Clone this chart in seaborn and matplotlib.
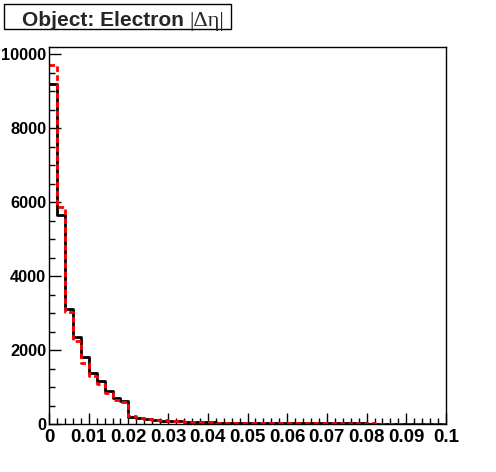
import numpy as np
import pandas as pd
import matplotlib
matplotlib.use("Agg")
import matplotlib.pyplot as plt
import seaborn as sns
from matplotlib.patches import Rectangle
from matplotlib.ticker import MultipleLocator

# 50 bins from 0 to 0.1
bin_width = 0.002
bin_centers = np.arange(50) * bin_width + bin_width / 2

# counts per bin
black_counts = [9200, 5650, 3110, 2350, 1820, 1390, 1150, 900, 690, 630,
                180, 170, 125, 95, 90, 80, 75, 65, 50, 45,
                42, 40, 36, 32, 30, 28, 26, 25, 24, 22,
                20, 20, 19, 18, 17, 16, 15, 15, 14, 14,
                13, 12, 12, 11, 11, 10, 10, 10, 9, 9]
red_counts = [9700, 5860, 3040, 2230, 1640, 1300, 1070, 850, 650, 600,
              210, 165, 130, 100, 95, 85, 70, 60, 55, 48,
              45, 38, 40, 30, 33, 27, 28, 22, 26, 20,
              22, 17, 20, 16, 18, 14, 16, 13, 15, 12,
              14, 11, 12, 10, 12, 9, 10, 9, 8, 9]

x_ticks = [0, 0.01, 0.02, 0.03, 0.04, 0.05, 0.06, 0.07, 0.08, 0.09, 0.1]
x_labels = ["0", "0.01", "0.02", "0.03", "0.04", "0.05", "0.06", "0.07", "0.08", "0.09", "0.1"]
y_ticks = [0, 2000, 4000, 6000, 8000, 10000]
title_main = "Object: Electron "
title_sym = "|\u0394\u03b7|"

df_black = pd.DataFrame({"deta": bin_centers, "n": black_counts})
df_red = pd.DataFrame({"deta": bin_centers, "n": red_counts})

sns.set_style("ticks")
plt.rcParams['font.family'] = ['Liberation Sans', 'DejaVu Sans']

fig = plt.figure(figsize=(4.96, 4.72), dpi=100)
ax = fig.add_axes([49 / 496, 48 / 472, 397 / 496, 377 / 472])

sns.histplot(data=df_black, x="deta", weights="n", binwidth=bin_width, binrange=(0, 0.1),
             element="step", fill=False, color="black", linewidth=2, ax=ax)
sns.histplot(data=df_red, x="deta", weights="n", binwidth=bin_width, binrange=(0, 0.1),
             element="step", fill=False, color="red", linewidth=2,
             linestyle=(0, (2, 1.2)), ax=ax)

ax.set_xlim(0, 0.1)
ax.set_ylim(0, 10190)
ax.set_xticks(x_ticks)
ax.set_xticklabels(x_labels)
ax.set_yticks(y_ticks)
ax.set_yticklabels([str(v) for v in y_ticks])
ax.xaxis.set_minor_locator(MultipleLocator(0.002))
ax.yaxis.set_minor_locator(MultipleLocator(500))
ax.set_xlabel("")
ax.set_ylabel("")

for s in ax.spines.values():
    s.set_visible(True)
    s.set_color("black")
    s.set_linewidth(1)

ax.tick_params(axis="both", which="both", direction="in", top=False, right=False,
               colors="black", width=1)
ax.tick_params(axis="x", which="major", length=8, pad=3.5)
ax.tick_params(axis="x", which="minor", length=4)
ax.tick_params(axis="y", which="major", length=8.5, pad=2)
ax.tick_params(axis="y", which="minor", length=4.5)
for lab in ax.get_xticklabels():
    lab.set_fontsize(13.5)
    lab.set_fontweight("bold")
for lab in ax.get_yticklabels():
    lab.set_fontsize(11.8)
    lab.set_fontweight("bold")

# title box in the top-left corner
fig.patches.append(Rectangle((4 / 496, 1 - 29 / 472), 227 / 496, 25 / 472,
                             transform=fig.transFigure, facecolor="white",
                             edgecolor="black", linewidth=1))
t1 = fig.text(22 / 496, 1 - 26 / 472, title_main, fontsize=15, fontweight="bold",
              ha="left", va="baseline")
fig.canvas.draw()
bb = t1.get_window_extent()
fig.text(bb.x1 / 496, 1 - 26 / 472, title_sym, fontsize=16,
         family=["Liberation Serif", "DejaVu Serif"], ha="left", va="baseline")

fig.savefig("out.png", dpi=100)
